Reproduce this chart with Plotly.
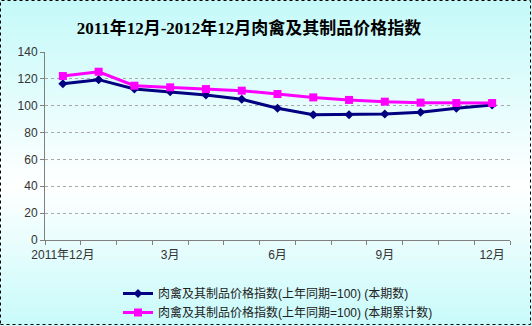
import plotly.graph_objects as go

# Monthly categories, Dec 2011 .. Dec 2012
months = ["2011年12月"] + [f"2012年{m}月" for m in range(1, 13)]
tick_text = ["2011年12月", "", "", "3月", "", "", "6月", "", "", "9月", "", "", "12月"]

# Meat & poultry price index (same period last year = 100)
current_period = [116.4, 119.4, 112.4, 110.4, 108.0, 104.8, 98.1, 93.3, 93.3, 93.8, 95.1, 98.1, 100.5]
cumulative = [122.1, 125.3, 114.9, 113.7, 112.4, 111.2, 108.7, 106.2, 104.3, 103.0, 102.3, 102.0, 102.0]

series_names = [
    "肉禽及其制品价格指数(上年同期=100) (本期数)",
    "肉禽及其制品价格指数(上年同期=100) (本期累计数)",
]
title_text = "2011年12月-2012年12月肉禽及其制品价格指数"

W, H = 532, 326
ML, MR, MT, MB = 45, 22, 52, 86
PW, PH = W - ML - MR, H - MT - MB

fig = go.Figure()
fig.add_trace(go.Scatter(
    x=months, y=current_period, name=series_names[0], mode="lines+markers",
    line=dict(color="#000080", width=3),
    marker=dict(symbol="diamond", size=7, color="#000080"),
))
fig.add_trace(go.Scatter(
    x=months, y=cumulative, name=series_names[1], mode="lines+markers",
    line=dict(color="#ff00ff", width=3),
    marker=dict(symbol="square", size=8, color="#ff00ff"),
))

# Vertical background gradient: cyan at top and bottom, white in the middle
def px_to_paper_y(py):
    return 1 - (py - MT) / PH

def px_to_paper_x(px):
    return (px - ML) / PW

top_c = (196, 249, 249)
bot_c = (200, 250, 250)
mid_y = 185
shapes = []
n_bands = 60
for i in range(n_bands):
    y0 = H * i / n_bands
    y1 = H * (i + 1) / n_bands
    yc = (y0 + y1) / 2
    if yc < mid_y:
        t = yc / mid_y
        c = [round(top_c[k] + (255 - top_c[k]) * t) for k in range(3)]
    else:
        t = (yc - mid_y) / (H - mid_y)
        c = [round(255 + (bot_c[k] - 255) * t) for k in range(3)]
    shapes.append(dict(
        type="rect", xref="paper", yref="paper",
        x0=px_to_paper_x(0), x1=px_to_paper_x(W),
        y0=px_to_paper_y(y1 + 0.5), y1=px_to_paper_y(y0),
        fillcolor=f"rgb({c[0]},{c[1]},{c[2]})", line=dict(width=0), layer="below",
    ))
# Dotted frame around the whole chart
shapes.append(dict(
    type="rect", xref="paper", yref="paper",
    x0=px_to_paper_x(0.5), x1=px_to_paper_x(W - 1.5),
    y0=px_to_paper_y(H - 1.5), y1=px_to_paper_y(0.5),
    line=dict(color="#000000", width=1, dash="dot"), layer="above",
))

fig.update_layout(
    width=W, height=H,
    margin=dict(l=ML, r=MR, t=MT, b=MB, autoexpand=False),
    paper_bgcolor="#e6fdfd",
    plot_bgcolor="rgba(0,0,0,0)",
    shapes=shapes,
    title=dict(
        text=title_text, x=249 / W, xref="container", xanchor="center",
        y=1 - 28 / H, yref="container", yanchor="middle",
        font=dict(family="Liberation Serif, Noto Sans CJK SC", size=17, color="#000000", weight="bold"),
    ),
    font=dict(family="Liberation Sans, Noto Sans CJK SC", size=12, color="#333333"),
    showlegend=True,
    legend=dict(
        x=118 / W, xanchor="left", xref="container",
        y=1 - 279 / H, yanchor="top", yref="container",
        bgcolor="rgba(0,0,0,0)", font=dict(size=12, color="#222222"),
        itemwidth=30, tracegroupgap=0,
    ),
    xaxis=dict(
        type="category", tickmode="array", tickvals=months, ticktext=tick_text,
        tickson="boundaries", ticks="outside", ticklen=4, tickcolor="#808080",
        showline=True, linecolor="#808080", linewidth=1, showgrid=False,
        range=[-0.5, 12.5], tickangle=0, automargin=False, ticklabelstandoff=4,
        tickfont=dict(size=12, color="#333333"),
    ),
    yaxis=dict(
        range=[0, 140], dtick=20, showline=True, linecolor="#808080", linewidth=1,
        ticks="outside", ticklen=4, tickcolor="#808080", automargin=False,
        showgrid=True, gridcolor="#a8a8a8", griddash="dot", gridwidth=1,
        zeroline=False, tickfont=dict(size=12, color="#333333"),
    ),
)

fig.write_html("out.html")
